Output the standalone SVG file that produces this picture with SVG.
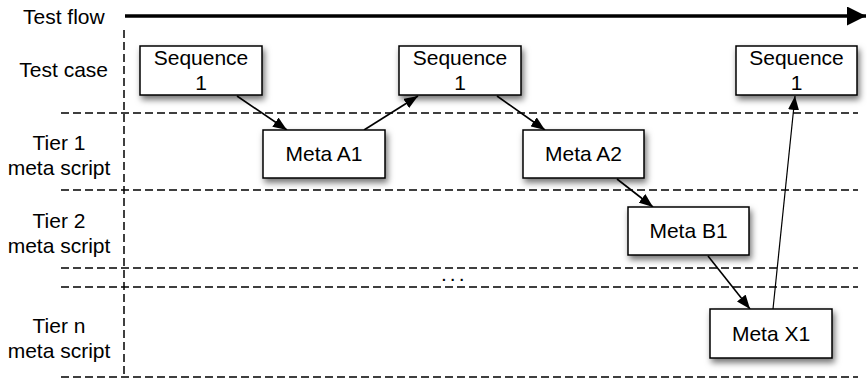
<svg xmlns="http://www.w3.org/2000/svg" width="867" height="380" viewBox="0 0 867 380">
  <style>
    text { font-family: "Liberation Sans", Arial, Helvetica, sans-serif; font-size: 21px; fill: #000; }
    .lane { stroke: #000; stroke-width: 1.5; stroke-dasharray: 8 4; fill: none; }
    .box { fill: #fff; stroke: #000; stroke-width: 1.5; filter: url(#shadow); }
    .edge { stroke: #000; stroke-width: 1.6; fill: none; marker-end: url(#head); }
    .mid { text-anchor: middle; }
  </style>
  <defs>
    <filter id="shadow" x="-20%" y="-30%" width="150%" height="180%">
      <feDropShadow dx="2" dy="4" stdDeviation="3" flood-color="#000" flood-opacity="0.55"/>
    </filter>
    <marker id="head" markerUnits="userSpaceOnUse" markerWidth="15" markerHeight="11" refX="14" refY="5.5" orient="auto">
      <path d="M0,0 L14,5.5 L0,11 z" fill="#000"/>
    </marker>
    <marker id="flowhead" markerUnits="userSpaceOnUse" markerWidth="20" markerHeight="19" refX="19" refY="9.5" orient="auto">
      <path d="M0,0 L19,9.5 L0,19 z" fill="#000"/>
    </marker>
  </defs>

  <!-- swimlane grid -->
  <g id="lanes">
    <line class="lane" x1="124" y1="30" x2="124" y2="377"/>
    <line class="lane" x1="61" y1="113" x2="858" y2="113"/>
    <line class="lane" x1="61" y1="190" x2="858" y2="190"/>
    <line class="lane" x1="61" y1="268" x2="858" y2="268"/>
    <line class="lane" x1="61" y1="287" x2="858" y2="287"/>
    <line class="lane" x1="61" y1="377" x2="858" y2="377"/>
    <text x="441" y="281" style="letter-spacing:3px">...</text>
  </g>

  <!-- lane labels -->
  <g id="labels">
    <text x="23" y="24">Test flow</text>
    <text x="108" y="77" text-anchor="end">Test case</text>
    <text class="mid" x="59" y="150">Tier 1</text>
    <text class="mid" x="59" y="175">meta script</text>
    <text class="mid" x="59" y="228">Tier 2</text>
    <text class="mid" x="59" y="253">meta script</text>
    <text class="mid" x="59" y="333">Tier n</text>
    <text class="mid" x="59" y="358">meta script</text>
  </g>

  <!-- time axis -->
  <g id="flow">
    <line x1="125" y1="16" x2="866" y2="16" stroke="#000" stroke-width="3.5" marker-end="url(#flowhead)"/>
  </g>

  <!-- connectors -->
  <g id="connectors">
    <line class="edge" x1="237" y1="96" x2="287" y2="130"/>
    <line class="edge" x1="364" y1="130" x2="418" y2="96"/>
    <line class="edge" x1="497" y1="96" x2="545" y2="130"/>
    <line class="edge" x1="617" y1="179" x2="653" y2="207"/>
    <line class="edge" x1="708" y1="256" x2="750" y2="309"/>
    <line class="edge" x1="773" y1="309" x2="795" y2="96" style="stroke-width:1.2"/>
  </g>

  <!-- nodes -->
  <g id="seq-1a">
    <rect class="box" x="140" y="46" width="122" height="49"/>
    <text class="mid" x="201" y="65">Sequence</text>
    <text class="mid" x="201" y="90">1</text>
  </g>
  <g id="seq-1b">
    <rect class="box" x="399" y="46" width="122" height="49"/>
    <text class="mid" x="460" y="65">Sequence</text>
    <text class="mid" x="460" y="90">1</text>
  </g>
  <g id="seq-1c">
    <rect class="box" x="736" y="46" width="121" height="49"/>
    <text class="mid" x="796.5" y="65">Sequence</text>
    <text class="mid" x="796.5" y="90">1</text>
  </g>
  <g id="meta-a1">
    <rect class="box" x="263" y="130" width="122" height="48"/>
    <text class="mid" x="324" y="161">Meta A1</text>
  </g>
  <g id="meta-a2">
    <rect class="box" x="523" y="130" width="121" height="48"/>
    <text class="mid" x="583.5" y="161">Meta A2</text>
  </g>
  <g id="meta-b1">
    <rect class="box" x="628" y="207" width="121" height="48"/>
    <text class="mid" x="688.5" y="238">Meta B1</text>
  </g>
  <g id="meta-x1">
    <rect class="box" x="710" y="309" width="122" height="49"/>
    <text class="mid" x="771" y="341">Meta X1</text>
  </g>
</svg>
